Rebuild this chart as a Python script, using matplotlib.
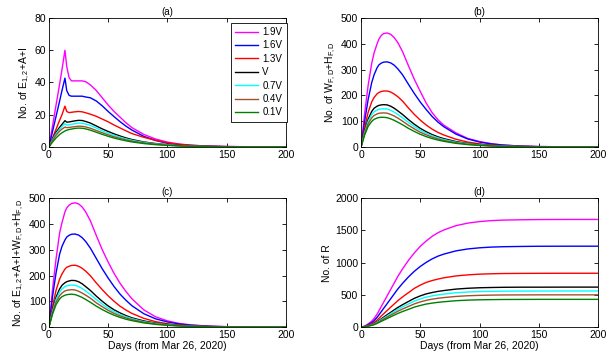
import numpy as np
import matplotlib
matplotlib.use('Agg')
import matplotlib.pyplot as plt

plt.rcParams['font.family'] = ['Liberation Sans', 'DejaVu Sans']
plt.rcParams['mathtext.fontset'] = 'custom'
plt.rcParams['mathtext.rm'] = 'Liberation Sans'
plt.rcParams['mathtext.it'] = 'Liberation Sans'

# days sampled from the curves
days = [0, 3, 6, 9, 11, 13.5, 15, 17, 19, 22, 25, 28, 31, 35, 40, 45, 50, 55, 60, 65,
        70, 80, 90, 100, 110, 120, 135, 150, 175, 200]

labels = ['1.9V', '1.6V', '1.3V', 'V', '0.7V', '0.4V', '0.1V']
colors = ['#ff00ff', '#0000ff', '#ff0000', '#000000', '#00ffff', '#a0522d', '#008000']

# (a) E1,2 + A + I
panel_a = [
    [0, 13, 26, 39, 48, 60, 50, 43, 41, 41, 41, 41, 40.5, 38.5, 35, 30.5, 26, 22, 18.5, 15,
     12, 7.8, 4.9, 3.0, 1.8, 1.1, 0.5, 0.25, 0.08, 0.03],
    [0, 9.5, 19, 28.5, 35, 42.7, 35, 32, 31.5, 31.5, 31.5, 31.5, 31, 30.5, 28.5, 25.5, 22, 18.8, 15.7, 12.9,
     10.5, 6.6, 4, 2.3, 1.4, 0.85, 0.4, 0.2, 0.06, 0.02],
    [0, 5.5, 11, 16.5, 20, 25.3, 22, 21.3, 21.5, 21.8, 22, 21.8, 21.2, 20.3, 19, 17.3, 15.6, 13.6, 11.8, 10,
     8.3, 6, 4.1, 2.6, 1.6, 1, 0.45, 0.2, 0.05, 0.02],
    [0, 5, 9, 12.2, 14, 16.3, 15.4, 15.5, 15.8, 16.2, 16.5, 16.4, 15.8, 14.8, 13, 11.2, 9.6, 8.1, 6.8, 5.6,
     4.6, 3.1, 2.1, 1.4, 0.9, 0.55, 0.25, 0.1, 0.03, 0.01],
    [0, 4.5, 8.2, 11, 12.6, 14.4, 13.6, 13.7, 14, 14.4, 14.8, 14.7, 14.2, 13.3, 11.7, 10, 8.5, 7.2, 6, 5,
     4.1, 2.8, 1.9, 1.25, 0.8, 0.5, 0.22, 0.09, 0.03, 0.01],
    [0, 4, 7.3, 9.8, 11.1, 12.3, 12, 12.1, 12.3, 12.6, 12.9, 12.8, 12.4, 11.6, 10.2, 8.8, 7.5, 6.3, 5.3, 4.4,
     3.6, 2.5, 1.7, 1.1, 0.7, 0.45, 0.2, 0.08, 0.03, 0.01],
    [0, 3, 5.6, 7.7, 8.8, 9.9, 10.4, 10.8, 11.1, 11.5, 11.7, 11.6, 11.2, 10.4, 9.1, 7.8, 6.6, 5.5, 4.6, 3.8,
     3.1, 2.1, 1.4, 0.95, 0.6, 0.4, 0.17, 0.07, 0.02, 0.01],
]

# (b) W_F,D + H_F,D
panel_b = [
    [0, 130, 240, 325, 365, 400, 418, 432, 440, 442, 437, 424, 405, 370, 315, 262, 215, 170, 133, 105,
     84, 55, 33, 21, 12.5, 7.5, 3.2, 1.4, 0.4, 0.1],
    [0, 100, 185, 250, 280, 307, 318, 325, 329, 330, 326, 317, 303, 280, 243, 207, 174, 145, 118, 96,
     78, 50, 31, 19, 11.5, 7, 3, 1.3, 0.4, 0.1],
    [0, 75, 135, 175, 192, 206, 211, 215, 217, 217, 213, 205, 195, 178, 151, 126, 104, 85, 69, 56,
     46, 30, 19, 12, 7.3, 4.5, 2, 0.9, 0.25, 0.07],
    [0, 62, 108, 138, 150, 158, 161, 163, 164, 163, 158, 150, 140, 126, 106, 88, 72, 59, 48, 39,
     32, 21, 13.5, 8.5, 5.3, 3.3, 1.5, 0.7, 0.2, 0.05],
    [0, 57, 99, 126, 136, 143, 146, 147.5, 148, 147, 142, 135, 126, 113, 95, 79, 65, 53, 43, 35,
     28.5, 18.5, 12, 7.6, 4.8, 3, 1.3, 0.6, 0.18, 0.05],
    [0, 52, 90, 113, 122, 128, 130.5, 131.5, 132, 131, 126, 120, 112, 100, 84, 70, 57, 47, 38, 31,
     25, 16.3, 10.5, 6.7, 4.2, 2.6, 1.2, 0.5, 0.15, 0.04],
    [0, 46, 80, 99, 107, 112, 114, 115, 115, 113.5, 109, 103, 96, 86, 72, 60, 49, 40, 32.5, 26.5,
     21.5, 14, 9, 5.7, 3.6, 2.2, 1, 0.45, 0.13, 0.04],
]

# (c) E1,2 + A + I + W_F,D + H_F,D
panel_c = [
    [0, 145, 265, 365, 405, 447, 462, 473, 479, 482, 478, 466, 447, 412, 355, 300, 252, 208, 170, 138,
     110, 67, 40, 24, 14, 8.5, 3.7, 1.6, 0.45, 0.12],
    [0, 118, 210, 283, 313, 338, 349, 356, 360, 361, 357, 347, 332, 306, 266, 226, 190, 157, 128, 104,
     83, 52, 32, 20, 12, 7.2, 3.1, 1.3, 0.4, 0.1],
    [0, 80, 143, 186, 206, 225, 232, 236, 239, 240, 236, 228, 217, 199, 171, 145, 121, 100, 81, 66,
     53, 34, 21, 13, 8, 4.8, 2.1, 0.9, 0.27, 0.07],
    [0, 66, 116, 148, 162, 172, 176, 179, 181, 180.5, 176, 168, 157, 142, 120, 100, 82, 67, 55, 44.5,
     36, 24, 15.5, 9.8, 6.1, 3.8, 1.7, 0.75, 0.22, 0.06],
    [0, 61, 107, 136, 148, 157, 160, 162, 163, 162, 157, 150, 140, 126, 107, 89, 73, 60, 49, 40,
     32.5, 21, 13.8, 8.8, 5.5, 3.4, 1.5, 0.65, 0.2, 0.05],
    [0, 56, 97, 122, 132, 140, 142.5, 144, 145, 144, 139, 132, 124, 112, 94, 79, 65, 53, 43.5, 35.5,
     29, 19, 12.3, 7.8, 4.9, 3, 1.35, 0.6, 0.17, 0.05],
    [0, 50, 87, 109, 118, 123.5, 125.5, 127, 127.5, 126, 121, 115, 107, 96, 81, 68, 56, 46, 37.5, 30.5,
     25, 16.2, 10.5, 6.7, 4.2, 2.6, 1.15, 0.5, 0.15, 0.04],
]

# (d) R
panel_d = [
    [0, 13, 50, 92, 134, 200, 250, 317, 384, 484, 585, 685, 785, 902, 1035, 1152, 1253, 1336, 1408, 1465,
     1508, 1573, 1613, 1637, 1652, 1660, 1665, 1668, 1670, 1670],
    [0, 10, 38, 69, 100, 151, 188, 238, 289, 364, 439, 515, 590, 678, 778, 866, 941, 1004, 1058, 1101,
     1133, 1182, 1212, 1230, 1241, 1247, 1251, 1254, 1255, 1255],
    [0, 8, 28, 50, 73, 109, 135, 171, 206, 257, 309, 359, 409, 468, 534, 601, 651, 693, 722, 745,
     765, 793, 810, 821, 827, 831, 833, 834, 835, 835],
    [0, 6, 20, 37, 54, 81, 100, 127, 153, 191, 229, 267, 304, 347, 397, 446, 484, 515, 536, 554,
     567, 589, 602, 610, 614, 617, 619, 619, 620, 620],
    [0, 5, 18, 34, 49, 73, 91, 115, 138, 172, 207, 241, 274, 314, 358, 403, 437, 465, 484, 500,
     512, 532, 544, 551, 555, 557, 559, 559, 560, 560],
    [0, 5, 17, 30, 44, 65, 81, 103, 124, 154, 185, 215, 245, 280, 320, 360, 390, 415, 433, 447,
     458, 475, 486, 492, 496, 498, 499, 500, 500, 500],
    [0, 4, 14, 26, 37, 56, 70, 88, 106, 132, 159, 185, 211, 241, 275, 310, 335, 357, 372, 384,
     393, 409, 418, 423, 426, 428, 429, 430, 430, 430],
]

fig = plt.figure(figsize=(6.12, 3.61), dpi=100)

panels = [
    (panel_a, '(a)', r'No. of E$_{1,2}$+A+I', [0, 20, 40, 60, 80], [0.080, 0.593, 0.387, 0.357]),
    (panel_b, '(b)', r'No. of W$_{F,D}$+H$_{F,D}$', [0, 100, 200, 300, 400, 500], [0.590, 0.593, 0.387, 0.357]),
    (panel_c, '(c)', r'No. of E$_{1,2}$+A+I+W$_{F,D}$+H$_{F,D}$', [0, 100, 200, 300, 400, 500], [0.080, 0.094, 0.387, 0.357]),
    (panel_d, '(d)', 'No. of R', [0, 500, 1000, 1500, 2000], [0.590, 0.094, 0.387, 0.357]),
]

for k, (data, title, ylab, yt, pos) in enumerate(panels):
    ax = fig.add_axes(pos)
    for vals, lab, col in zip(data, labels, colors):
        ax.plot(days, vals, color=col, lw=1.0, label=lab)
    ax.set_xlim(0, 200)
    ax.set_ylim(yt[0], yt[-1])
    ax.set_xticks([0, 50, 100, 150, 200])
    ax.set_yticks(yt)
    ax.tick_params(direction='in', top=True, right=True, labelsize=7.5, length=3, width=0.6, pad=2)
    for sp in ax.spines.values():
        sp.set_linewidth(0.6)
    ax.set_title(title, fontsize=7, pad=2)
    ax.set_ylabel(ylab, fontsize=7.5, labelpad=2)
    if k >= 2:
        ax.set_xlabel('Days (from Mar 26, 2020)', fontsize=7.5, labelpad=1)
    if k == 0:
        leg = ax.legend(loc='upper right', bbox_to_anchor=(1.004, 0.965), borderaxespad=0,
                        fontsize=7, handlelength=2.3, handletextpad=0.5, labelspacing=0.35,
                        fancybox=False, framealpha=1, borderpad=0.45)
        leg.get_frame().set_edgecolor('black')
        leg.get_frame().set_linewidth(0.6)

fig.savefig('out.png', dpi=100)
